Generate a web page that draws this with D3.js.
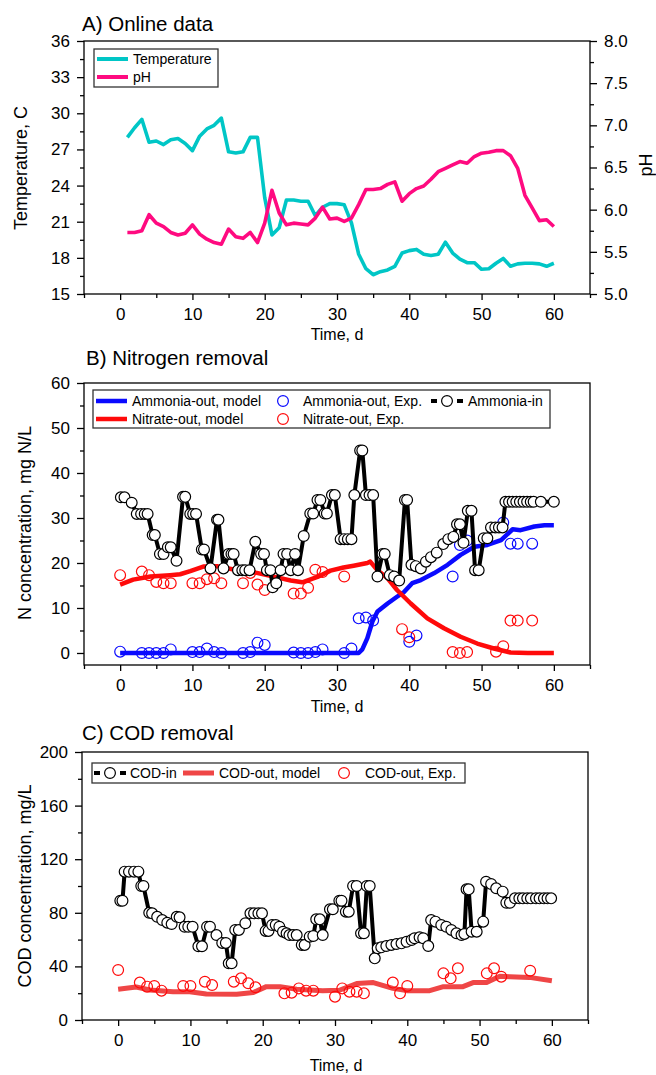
<!DOCTYPE html>
<html>
<head>
<meta charset="utf-8">
<script src="https://cdn.jsdelivr.net/npm/d3@7"></script>
<style>
  html, body { margin: 0; padding: 0; background: #fff; }
</style>
</head>
<body>
<div id="chart"></div>
<script>
// ── Panel A: online sensor data (one reading per day) ─────────────────────────
const ONLINE_DAY = [1,2,3,4,5,6,7,8,9,10,11,12,13,14,15,16,17,18,19,20,
                    21,22,23,24,25,26,27,28,29,30,31,32,33,34,35,36,37,38,39,40,
                    41,42,43,44,45,46,47,48,49,50,51,52,53,54,55,56,57,58,59,60];
const TEMPERATURE = [28.0,28.8,29.5,27.6,27.7,27.4,27.8,27.9,27.5,26.9,
                     28.1,28.7,29.0,29.6,26.8,26.7,26.8,28.0,28.0,23.0,
                     19.9,20.5,22.8,22.8,22.7,22.7,21.5,22.2,22.5,22.5,
                     22.4,20.9,18.3,17.1,16.6,16.85,17.0,17.3,18.4,18.6,
                     18.7,18.3,18.2,18.3,19.3,18.4,17.9,17.6,17.6,17.05,
                     17.1,17.55,17.95,17.3,17.5,17.55,17.55,17.5,17.3,17.55];
const PH = [5.73,5.73,5.75,5.94,5.84,5.80,5.73,5.70,5.72,5.82,
            5.71,5.65,5.61,5.59,5.77,5.68,5.66,5.73,5.61,5.84,
            6.23,5.96,5.82,5.84,5.83,5.82,5.90,6.03,5.89,5.90,
            5.86,5.90,6.06,6.24,6.24,6.25,6.30,6.33,6.10,6.19,
            6.25,6.28,6.36,6.45,6.49,6.53,6.57,6.55,6.63,6.67,
            6.68,6.70,6.70,6.64,6.49,6.17,6.02,5.87,5.88,5.80];

// ── Panel B: nitrogen ─────────────────────────────────────────────────────────
const AMMONIA_MODEL_T = [0,33,33.5,34.2,34.9,35.6,37.0,38.3,39.3,40.4,41.6,43.4,45.3,47.1,49.0,50.8,52.7,54.3,55.4,57.3,58.7,60];
const AMMONIA_MODEL   = [0,0,0.8,3.3,7.0,9.2,11.0,12.5,13.6,15.5,16.2,17.7,19.6,21.8,23.6,24.0,25.1,27.5,27.3,28.1,28.4,28.4];

const NITRATE_MODEL_T = [0,1.8,4.2,6.9,8.3,9.7,11.5,13.4,16.2,18.9,
                         21.7,23.6,25.2,27.3,29.1,30.9,32.3,34.2,34.6,35.6,
                         37.0,38.3,40.2,42.5,44.8,47.1,49.4,51.7,54.0,56.4,60];
const NITRATE_MODEL   = [15.2,16.3,17.0,17.3,17.5,18.2,19.2,19.3,18.4,17.8,
                         16.8,16.1,15.7,16.9,18.3,19.0,19.4,20.0,20.3,18.4,
                         16.6,14.0,11.0,7.7,5.5,3.6,2.1,1.0,0.1,0,0];

const AMMONIA_EXP_T = [0,3,4,5,6,7,10,11,12,13,14,17,18,19,20,24,25,26,27,28,31,32,33,34,35,40,41,46,47,48,53,54,55,57];
const AMMONIA_EXP   = [0.3,0,0,0,0,0.8,0.2,0.2,1.0,0.2,0,0,0.2,2.3,1.8,0.1,0,0,0.2,0.8,0,1.0,7.7,7.9,7.2,2.5,3.9,17.0,24.0,25.0,29.0,24.3,24.3,24.3];

const NITRATE_EXP_T = [0,3,4,5,6,7,10,11,12,13,14,17,18,19,20,24,25,26,27,28,31,39,40,46,47,48,52,53,54,55,57];
const NITRATE_EXP   = [17.3,18.1,17.3,15.8,15.5,15.5,15.5,15.5,16.4,16.6,15.5,15.5,17.8,15.2,14.0,13.2,13.2,14.5,18.5,18.0,17.0,5.3,3.5,0.2,0,0.2,0.3,1.5,7.2,7.2,7.2];

const AMMONIA_IN_T = [0.1,0.6,1.6,2.3,2.9,3.4,3.8,4.5,4.8,5.5,
                      6.0,6.6,7.0,7.8,8.7,9.0,9.7,10.1,10.5,11.3,
                      11.6,12.5,13.4,13.6,14.3,15.0,15.4,15.7,16.3,16.9,
                      17.3,17.9,18.7,19.5,19.9,20.3,20.8,21.1,21.6,22.2,
                      22.6,23.1,23.6,24.2,24.6,25.4,26.3,26.7,27.3,27.7,
                      28.3,28.6,29.3,29.7,30.5,31.0,31.5,32.0,32.4,33.2,
                      33.5,34.0,34.5,35.0,35.6,36.3,36.6,37.3,37.9,38.6,
                      39.4,39.7,40.3,40.9,41.6,42.3,43.0,43.8,44.7,45.4,
                      46.1,46.6,47.0,47.5,48.1,48.6,49.1,49.6,50.3,50.8,
                      51.3,51.9,52.4,52.9,53.3,53.8,54.3,54.8,55.3,55.8,
                      56.3,56.8,57.2,58.2,60.0];
const AMMONIA_IN   = [34.6,34.6,33.4,30.9,30.9,30.9,30.9,26.2,26.2,22.0,
                      22.0,23.5,23.5,20.5,34.7,34.7,30.9,30.9,30.9,23.0,
                      23.0,18.8,29.6,29.6,18.8,22.0,22.0,22.0,18.4,18.4,
                      18.4,18.4,24.7,22.0,22.0,18.4,18.4,14.6,15.5,18.4,
                      22.0,22.0,18.4,22.0,18.4,26.0,31.0,31.0,34.0,34.0,
                      31.0,31.0,35.1,35.1,25.3,25.3,25.3,25.3,35.1,45.0,
                      45.0,35.1,35.1,35.1,17.0,22.0,22.0,17.3,17.0,16.1,
                      34.0,34.0,19.6,19.3,18.8,20.3,21.3,22.3,24.2,25.3,
                      25.8,28.6,28.6,24.5,31.6,31.6,18.4,18.4,25.5,25.5,
                      27.9,27.9,27.9,27.9,33.6,33.6,33.6,33.6,33.6,33.6,
                      33.6,33.6,33.6,33.6,33.6];

// ── Panel C: COD ──────────────────────────────────────────────────────────────
const COD_IN_T = [0.3,0.6,0.9,1.5,2.2,2.8,3.2,3.5,4.3,4.7,
                  5.4,6.1,6.8,7.4,8.1,8.5,9.2,9.7,10.3,11.1,
                  11.6,12.3,12.7,13.6,14.4,14.9,15.3,15.7,16.2,16.7,
                  17.6,18.3,18.8,19.4,19.9,20.4,20.8,21.3,21.8,22.3,
                  22.8,23.3,23.7,24.2,24.7,25.4,25.8,26.5,27.0,27.4,
                  27.9,28.3,29.3,29.7,30.6,30.9,31.5,31.9,32.5,33.0,
                  33.6,34.0,34.4,34.8,35.5,35.9,36.4,37.1,37.8,38.5,
                  39.2,39.9,40.6,41.0,41.7,42.2,42.9,43.3,43.9,44.7,
                  45.4,46.1,46.8,47.5,47.9,48.2,48.5,48.9,49.6,50.5,
                  50.9,51.6,52.3,53.2,53.7,54.2,54.9,55.5,56.0,56.6,
                  57.1,57.8,58.3,58.9,59.4,59.9];
const COD_IN   = [89,89,110.7,110.7,110.7,110.7,100,100,80,79.6,
                  77,74.6,72.6,71.6,77,76.6,69.6,69.6,69.6,55,
                  55,69.6,69.6,63.4,57.5,57.5,42.3,42.3,67.2,67.2,
                  72.2,79.6,79.6,79.6,79.6,66.5,66.5,70.9,70.9,69.6,
                  65.9,64.7,63.4,63.4,63.4,56,56,62.2,62.7,75.1,
                  75.1,63.4,82.6,82.6,89,89,80.8,80.8,100,100,
                  64.7,64.7,100,100,46,53.5,54.2,55.2,56,56.7,
                  57.2,58.4,59.7,61,61.7,61,55.2,74.6,73.4,70.9,
                  69.6,67.2,64.7,63.4,64.2,97.5,97.5,65.9,65.9,73.4,
                  103.2,101.5,98.3,95.8,87.5,87.5,90.8,90.8,90.8,90.8,
                  90.8,90.8,90.8,90.8,90.8,90.8];

const COD_MODEL_T = [0,2.5,4.4,7.6,9.9,12.2,16.4,18.7,20.5,22.4,24.7,28.3,30.6,33.0,35.3,38.0,39.9,43.1,45.0,47.7,49.1,50.9,52.8,54.2,56.9,60];
const COD_MODEL   = [22.9,24.6,22.4,21.1,21.1,19.4,19.3,20.5,24.9,24.9,22.9,21.9,22.2,27.2,27.9,23.6,21.9,21.9,24.9,24.9,27.9,27.9,32.6,32.3,31.8,29.3];

const COD_EXP_T = [0,3,4,5,6,9,10,12,13,16,17,18,19,23,24,25,26,27,30,31,32,33,34,38,39,40,45,46,47,51,52,53,57];
const COD_EXP   = [37.3,27.9,24.9,25.4,21.9,25.4,25.4,28.6,26.1,28.6,31.1,27.4,24.4,19.9,20.4,23.6,21.9,21.9,17.4,23.6,21.1,21.1,19.9,27.9,19.9,25.4,34.8,31.1,38.6,34.8,38.6,32.3,36.8];

// ── Ticks ─────────────────────────────────────────────────────────────────────
const X_TICKS    = [0, 10, 20, 30, 40, 50, 60];
const X_MINOR    = [-5, 5, 15, 25, 35, 45, 55, 65];
const TEMP_TICKS = [15, 18, 21, 24, 27, 30, 33, 36];
const TEMP_MINOR = [16.5, 19.5, 22.5, 25.5, 28.5, 31.5, 34.5];
const PH_TICKS   = [5.0, 5.5, 6.0, 6.5, 7.0, 7.5, 8.0];
const PH_MINOR   = [5.25, 5.75, 6.25, 6.75, 7.25, 7.75];
const N_TICKS    = [0, 10, 20, 30, 40, 50, 60];
const N_MINOR    = [5, 15, 25, 35, 45, 55];
const COD_TICKS  = [0, 40, 80, 120, 160, 200];
const COD_MINOR  = [20, 60, 100, 140, 180];

// ── Style ─────────────────────────────────────────────────────────────────────
const FONT    = "'Liberation Sans', Arial, Helvetica, sans-serif";
const TEAL    = "#00c6c6";
const PINK    = "#ff0a80";
const BLUE    = "#0a0aff";
const RED     = "#ff0a0a";
const COD_RED = "#ef4646";
const R_DOT   = 5.4;

// ── SVG ───────────────────────────────────────────────────────────────────────
const svg = d3.select("#chart").append("svg")
  .attr("width", 656).attr("height", 1075)
  .style("font-family", FONT);
svg.append("rect").attr("width", 656).attr("height", 1075).attr("fill", "#fff");

// ── Helpers ───────────────────────────────────────────────────────────────────
function makePanel(box, yDomain, y2Domain) {
  const p = {
    box,
    x: d3.scaleLinear().domain([-5, 65]).range([box.left, box.right]),
    y: d3.scaleLinear().domain(yDomain).range([box.bottom, box.top]),
  };
  if (y2Domain) p.y2 = d3.scaleLinear().domain(y2Domain).range([box.bottom, box.top]);
  return p;
}

function styleAxis(g) {
  g.select(".domain").remove();
  g.attr("font-family", null).attr("font-size", null);
  g.selectAll("line").attr("stroke", "#000").attr("stroke-width", 1.3);
  g.selectAll("text").attr("fill", "#000").style("font-size", "17px");
}

function drawAxes(p, opts) {
  const b = p.box;
  // bottom
  const gx = svg.append("g").attr("transform", `translate(0,${b.bottom})`);
  gx.call(d3.axisBottom(p.x).tickValues(X_TICKS).tickSize(6).tickPadding(opts.xPad));
  gx.append("g").call(d3.axisBottom(p.x).tickValues(X_MINOR).tickSize(4).tickFormat(""));
  gx.selectAll(".domain").remove();
  styleAxis(gx);

  // left
  const gy = svg.append("g").attr("transform", `translate(${b.left},0)`);
  gy.call(d3.axisLeft(p.y).tickValues(opts.yTicks).tickSize(7).tickPadding(7));
  gy.append("g").call(d3.axisLeft(p.y).tickValues(opts.yMinor).tickSize(4).tickFormat(""));
  gy.selectAll(".domain").remove();
  styleAxis(gy);

  // right (pH only)
  if (p.y2) {
    const gr = svg.append("g").attr("transform", `translate(${b.right},0)`);
    gr.call(d3.axisRight(p.y2).tickValues(opts.y2Ticks).tickSize(7).tickPadding(7)
      .tickFormat(d3.format(".1f")));
    gr.append("g").call(d3.axisRight(p.y2).tickValues(opts.y2Minor).tickSize(4).tickFormat(""));
    gr.selectAll(".domain").remove();
    styleAxis(gr);
  }

  svg.append("rect")
    .attr("x", b.left).attr("y", b.top)
    .attr("width", b.right - b.left).attr("height", b.bottom - b.top)
    .attr("fill", "none").attr("stroke", "#000").attr("stroke-width", 1.3);
}

function drawText(txt, x, y, size, anchor, rotate) {
  const t = svg.append("text")
    .attr("x", x).attr("y", y)
    .attr("text-anchor", anchor || "start")
    .attr("font-size", size)
    .attr("fill", "#000")
    .text(txt);
  if (rotate) t.attr("transform", `rotate(${rotate},${x},${y})`);
  return t;
}

function drawLine(p, yScale, ts, vs, color, width) {
  const idx = d3.range(ts.length);
  svg.append("path")
    .datum(idx)
    .attr("fill", "none")
    .attr("stroke", color)
    .attr("stroke-width", width)
    .attr("stroke-linejoin", "round")
    .attr("d", d3.line().x(i => p.x(ts[i])).y(i => yScale(vs[i])));
}

function drawDots(p, ts, vs, color, fill) {
  svg.append("g").selectAll("circle")
    .data(d3.range(ts.length))
    .join("circle")
    .attr("cx", i => p.x(ts[i]))
    .attr("cy", i => p.y(vs[i]))
    .attr("r", R_DOT)
    .attr("fill", fill)
    .attr("stroke", color)
    .attr("stroke-width", 1.2);
}

function legendBox(x, y, w, h) {
  svg.append("rect").attr("x", x).attr("y", y).attr("width", w).attr("height", h)
    .attr("fill", "#fff").attr("stroke", "#333").attr("stroke-width", 1.3);
}

function legendLine(x1, x2, y, color, width) {
  svg.append("line").attr("x1", x1).attr("x2", x2).attr("y1", y).attr("y2", y)
    .attr("stroke", color).attr("stroke-width", width);
}

function legendDot(cx, cy, color, fill) {
  svg.append("circle").attr("cx", cx).attr("cy", cy).attr("r", R_DOT)
    .attr("fill", fill).attr("stroke", color).attr("stroke-width", 1.2);
}

function legendLineDot(cx, cy) {
  legendLine(cx - 16, cx - 10, cy, "#000", 4);
  legendLine(cx + 10, cx + 16, cy, "#000", 4);
  legendDot(cx, cy, "#000", "#fff");
}

// ── A) Online data ────────────────────────────────────────────────────────────
const pA = makePanel({ left: 84, right: 590, top: 41, bottom: 294 }, [15, 36], [5, 8]);
drawAxes(pA, { xPad: 8, yTicks: TEMP_TICKS, yMinor: TEMP_MINOR, y2Ticks: PH_TICKS, y2Minor: PH_MINOR });
drawLine(pA, pA.y, ONLINE_DAY, TEMPERATURE, TEAL, 3.6);
drawLine(pA, pA.y2, ONLINE_DAY, PH, PINK, 3.6);

drawText("A) Online data", 82, 30.5, 20.5);
drawText("Temperature, C", 27, 168, 18, "middle", -90);
drawText("pH", 652, 165, 18, "middle", -90);
drawText("Time, d", 337, 340, 16, "middle");

legendBox(94, 49, 124, 38);
legendLine(97, 128, 59, TEAL, 4);
legendLine(97, 128, 77, PINK, 4);
drawText("Temperature", 133, 64, 14);
drawText("pH", 133, 82, 14);

// ── B) Nitrogen removal ───────────────────────────────────────────────────────
const pB = makePanel({ left: 84, right: 590, top: 383, bottom: 665 }, [-2.67, 60]);
drawAxes(pB, { xPad: 8, yTicks: N_TICKS, yMinor: N_MINOR });
drawLine(pB, pB.y, AMMONIA_MODEL_T, AMMONIA_MODEL, BLUE, 4.5);
drawLine(pB, pB.y, NITRATE_MODEL_T, NITRATE_MODEL, RED, 4.5);
drawDots(pB, AMMONIA_EXP_T, AMMONIA_EXP, BLUE, "none");
drawDots(pB, NITRATE_EXP_T, NITRATE_EXP, RED, "none");
drawLine(pB, pB.y, AMMONIA_IN_T, AMMONIA_IN, "#000", 4);
drawDots(pB, AMMONIA_IN_T, AMMONIA_IN, "#000", "#fff");

drawText("B) Nitrogen removal", 86, 364.5, 20.5);
drawText("N concentration, mg N/L", 31, 523, 18, "middle", -90);
drawText("Time, d", 337, 712, 16, "middle");

legendBox(93, 390, 457, 38);
legendLine(96, 127, 401, BLUE, 4.5);
legendLine(96, 127, 419, RED, 4.5);
drawText("Ammonia-out, model", 132, 406, 14);
drawText("Nitrate-out, model", 132, 424, 14);
legendDot(283, 401, BLUE, "none");
legendDot(283, 419, RED, "none");
drawText("Ammonia-out, Exp.", 303, 406, 14);
drawText("Nitrate-out, Exp.", 303, 424, 14);
legendLineDot(447, 401);
drawText("Ammonia-in", 468, 406, 14);

// ── C) COD removal ────────────────────────────────────────────────────────────
const pC = makePanel({ left: 82, right: 588, top: 752, bottom: 1020 }, [0, 200]);
drawAxes(pC, { xPad: 8, yTicks: COD_TICKS, yMinor: COD_MINOR });
drawLine(pC, pC.y, COD_MODEL_T, COD_MODEL, COD_RED, 5);
drawDots(pC, COD_EXP_T, COD_EXP, RED, "none");
drawLine(pC, pC.y, COD_IN_T, COD_IN, "#000", 4);
drawDots(pC, COD_IN_T, COD_IN, "#000", "#fff");

drawText("C) COD removal", 82, 740, 20.5);
drawText("COD concentration, mg/L", 31, 886, 18, "middle", -90);
drawText("Time, d", 336, 1071, 16, "middle");

legendBox(92, 763, 373, 20);
legendLineDot(110, 773);
drawText("COD-in", 130, 778, 14);
legendLine(183, 214, 773, COD_RED, 5);
drawText("COD-out, model", 219, 778, 14);
legendDot(344, 773, RED, "none");
drawText("COD-out, Exp.", 365, 778, 14);
</script>
</body>
</html>
